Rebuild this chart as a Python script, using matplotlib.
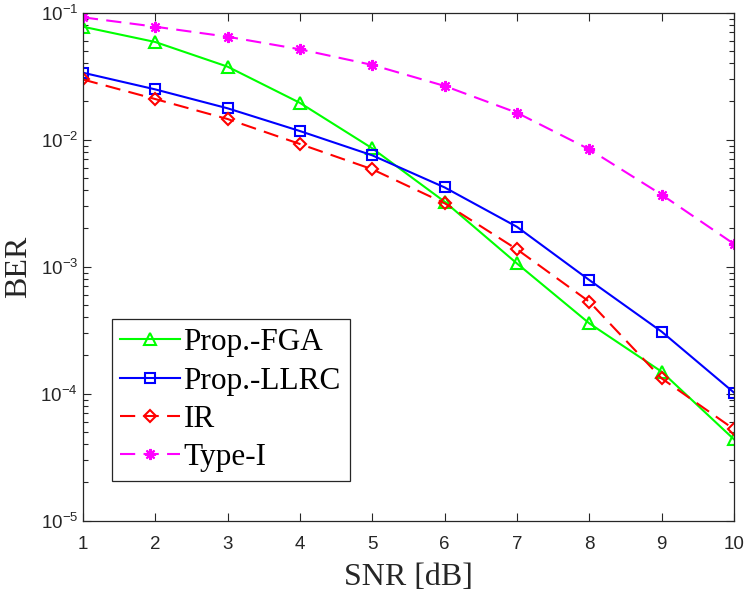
import numpy as np
import matplotlib
matplotlib.use("Agg")
import matplotlib.pyplot as plt
from matplotlib.ticker import LogLocator, FuncFormatter

snr = [1, 2, 3, 4, 5, 6, 7, 8, 9, 10]
ber_fga = [0.0776, 0.0588, 0.0376, 0.0195, 0.00855, 0.00325, 0.00106, 3.58e-4, 1.49e-4, 4.37e-5]
ber_llrc = [0.0337, 0.0249, 0.01767, 0.0117, 0.00753, 0.00421, 0.00206, 7.85e-4, 3.08e-4, 1.02e-4]
ber_ir = [0.0298, 0.0209, 0.01455, 0.00925, 0.00585, 0.00316, 0.00137, 5.3e-4, 1.32e-4, 5.25e-5]
ber_type1 = [0.092, 0.0776, 0.0647, 0.0515, 0.0388, 0.0265, 0.0163, 0.0084, 0.00369, 0.00151]
labels = ["Prop.-FGA", "Prop.-LLRC", "IR", "Type-I"]

plt.rcParams['mathtext.fontset'] = 'custom'
plt.rcParams['mathtext.rm'] = 'Liberation Sans'
plt.rcParams['mathtext.it'] = 'Liberation Sans'
plt.rcParams['font.family'] = ['Liberation Sans', 'DejaVu Sans']

axc = '#262626'
fig = plt.figure(figsize=(7.47, 5.94), dpi=100)
ax = fig.add_axes([0.111, 0.1234, 0.8716, 0.8552])

lw = 1.5
ax.plot(snr, ber_fga, color='#00FF00', lw=lw, marker='^', ms=8, mfc='none', mew=1.5, label=labels[0])
ax.plot(snr, ber_llrc, color='#0000FF', lw=lw, marker='s', ms=6.5, mfc='none', mew=1.5, label=labels[1])
ax.plot(snr, ber_ir, color='#FF0000', lw=lw, marker='D', ms=6.5, mfc='none', mew=1.5, dashes=(7.3, 4), label=labels[2])
ax.plot(snr, ber_type1, color='#FF00FF', lw=lw, marker=(8, 2, 0), ms=8, mew=1.5, dashes=(7.3, 4), label=labels[3])

ax.set_yscale('log')
ax.set_xlim(1, 10)
ax.set_ylim(1e-5, 1e-1)
ax.set_xticks(snr)
ax.xaxis.set_major_formatter(FuncFormatter(lambda v, p: f"{int(v)}"))
ax.yaxis.set_major_locator(LogLocator(base=10, numticks=10))
ax.yaxis.set_minor_locator(LogLocator(base=10, subs=np.arange(2, 10), numticks=20))
ax.yaxis.set_major_formatter(FuncFormatter(lambda v, p: r"$\mathregular{10^{%d}}$" % int(round(np.log10(v)))))

ax.tick_params(axis='both', which='both', direction='in', top=True, right=True, colors=axc, labelsize=13.5)
ax.tick_params(which='major', length=6, width=0.8)
ax.tick_params(which='minor', length=3.5, width=0.8)
ax.tick_params(axis='x', pad=11)
for s in ax.spines.values():
    s.set_color(axc)
    s.set_linewidth(0.9)

ax.set_xlabel("SNR [dB]", fontfamily='Liberation Serif', fontsize=23, color=axc, labelpad=7)
ax.set_ylabel("BER", fontfamily='Liberation Serif', fontsize=23, color=axc, labelpad=5)

leg = ax.legend(loc='lower left', bbox_to_anchor=(0.044, 0.078), borderaxespad=0,
                prop={'family': 'Liberation Serif', 'size': 22.5}, frameon=True, fancybox=False,
                edgecolor=axc, framealpha=1, handlelength=1.9, handletextpad=0.12,
                labelspacing=0.3, borderpad=0.28)
leg.get_frame().set_linewidth(0.9)

fig.savefig("out.png", dpi=100)
